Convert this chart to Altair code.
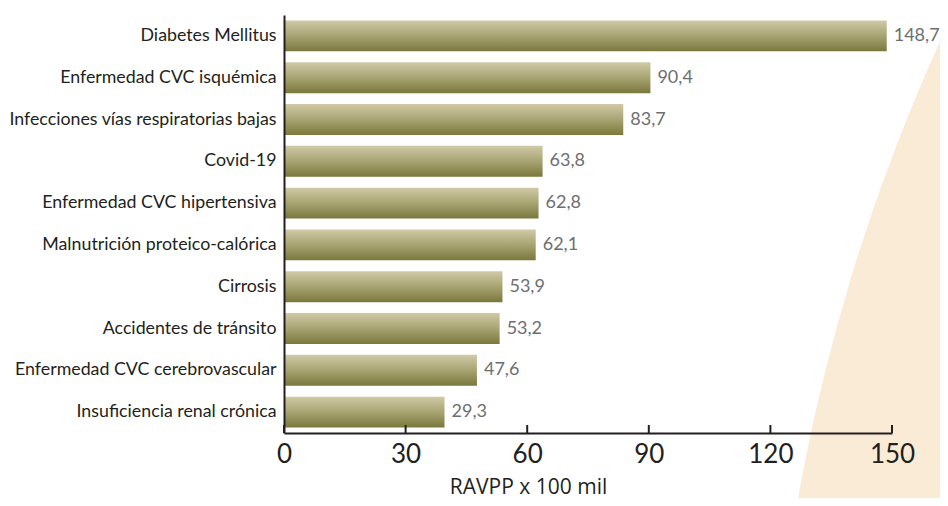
import altair as alt
import pandas as pd

categories = [
    "Diabetes Mellitus",
    "Enfermedad CVC isquémica",
    "Infecciones vías respiratorias bajas",
    "Covid-19",
    "Enfermedad CVC hipertensiva",
    "Malnutrición proteico-calórica",
    "Cirrosis",
    "Accidentes de tránsito",
    "Enfermedad CVC cerebrovascular",
    "Insuficiencia renal crónica",
]
# bar lengths as drawn in the picture
bar_lengths = [148.7, 90.4, 83.7, 63.8, 62.8, 62.1, 53.9, 53.2, 47.6, 39.6]
# printed value labels
value_labels = ["148,7", "90,4", "83,7", "63,8", "62,8", "62,1", "53,9", "53,2", "47,6", "29,3"]
tick_values = [0, 30, 60, 90, 120, 150]

W, H = 608, 418
PAD_L, PAD_T = 276, 7
TOTAL_W, TOTAL_H = 932, 490
ORIGIN_X, ORIGIN_Y = 8, 8  # page position of the svg's corner

df = pd.DataFrame({"cat": categories, "val": bar_lengths, "lab": value_labels})
ticks = pd.DataFrame({"t": tick_values})
bg = pd.DataFrame({"k": [1]})

dark = "#231f20"

x_scale = alt.Scale(domain=[0, 150], nice=False, zero=True)
y_scale = alt.Scale(domain=categories, paddingInner=0.26, paddingOuter=0.13)

R = 1926
background = alt.Chart(bg).mark_circle(color="#faebd6", opacity=1).encode(
    x=alt.value(2694 - ORIGIN_X - PAD_L),
    y=alt.value(837 - ORIGIN_Y - PAD_T),
    size=alt.value(4 * R * R),
)

grad = alt.Gradient(
    gradient="linear",
    stops=[
        alt.GradientStop(color="#d0caa7", offset=0),
        alt.GradientStop(color="#a7a472", offset=0.5),
        alt.GradientStop(color="#7a783c", offset=1),
    ],
    x1=0, x2=0, y1=0, y2=1,
)

bars = alt.Chart(df).mark_bar(color=grad).encode(
    x=alt.X(
        "val:Q",
        scale=x_scale,
        axis=alt.Axis(
            values=tick_values,
            grid=False,
            ticks=False,
            domainColor=dark,
            domainWidth=2,
            labelFont="Lato",
            labelFontSize=26,
            labelColor=dark,
            labelPadding=8,
            labelFlush=False,
            title="RAVPP x 100 mil",
            titleFont="Open Sans",
            titleFontSize=21,
            titleFontWeight="normal",
            titleColor=dark,
            titleX=244,
            titleY=54,
            titleAlign="center",
            titleBaseline="middle",
            zindex=1,
        ),
    ),
    y=alt.Y(
        "cat:N",
        sort=categories,
        scale=y_scale,
        axis=alt.Axis(
            title=None,
            ticks=False,
            grid=False,
            domainColor=dark,
            domainWidth=2,
            labelFont="Lato",
            labelFontSize=17.8,
            labelColor=dark,
            labelPadding=8,
            labelLimit=300,
            zindex=1,
        ),
    ),
)

texts = alt.Chart(df).mark_text(
    align="left", baseline="middle", dx=7, font="Lato", fontSize=18, color="#6d6e71"
).encode(
    x=alt.X("val:Q", scale=x_scale),
    y=alt.Y("cat:N", sort=categories, scale=y_scale),
    text="lab:N",
)

tick_rules = alt.Chart(ticks).mark_rule(color=dark, strokeWidth=2).encode(
    x=alt.X("t:Q", scale=x_scale),
    y=alt.value(H - 8),
    y2=alt.value(H),
)

chart = (
    alt.layer(background, bars, texts, tick_rules)
    .properties(
        width=W,
        height=H,
        background="white",
        autosize=alt.AutoSizeParams(type="none"),
        padding={"left": PAD_L, "top": PAD_T, "right": TOTAL_W - PAD_L - W, "bottom": TOTAL_H - PAD_T - H},
    )
    .configure_view(stroke="transparent", strokeWidth=0, fill="transparent")
)

chart.save("out.html", embed_options={"renderer": "svg", "actions": False})
